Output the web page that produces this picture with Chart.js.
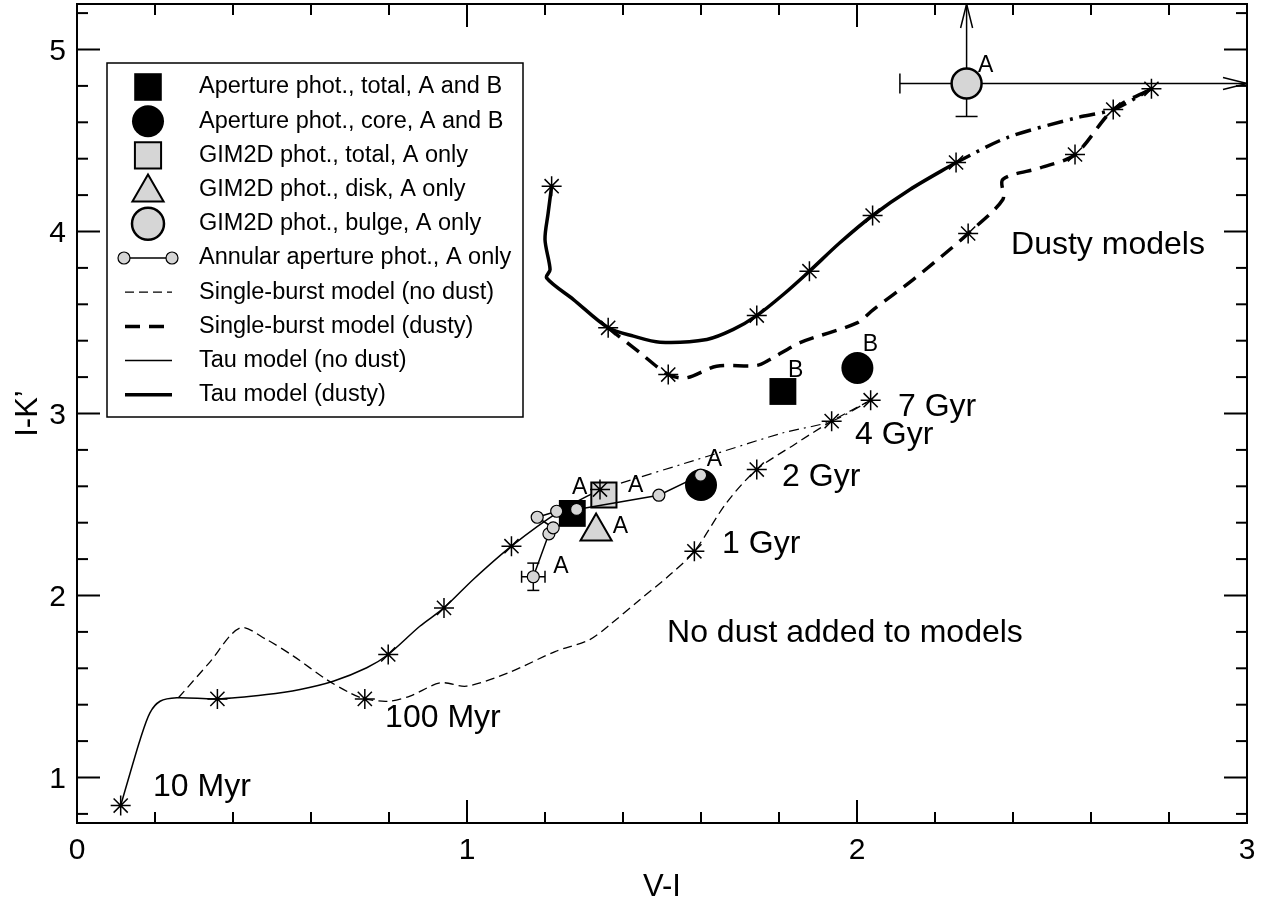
<!DOCTYPE html>
<html><head><meta charset="utf-8">
<script src="https://cdn.jsdelivr.net/npm/chart.js@4/dist/chart.umd.min.js"></script>
<style>html,body{margin:0;padding:0;background:#fff}canvas{display:block}</style>
</head><body>
<canvas id="c" width="1270" height="901"></canvas>
<script>
// ---------- data ----------
const xTickVals = [0, 1, 2, 3];
const yTickVals = [1, 2, 3, 4, 5];

// Tau model (no dust) - solid part
const tauNoDustX = [0.112, 0.137, 0.162, 0.187, 0.213, 0.256, 0.360, 0.486, 0.572, 0.657, 0.743, 0.798, 0.879, 0.941, 1.016, 1.114, 1.238, 1.341];
const tauNoDustY = [0.846, 1.030, 1.209, 1.355, 1.419, 1.438, 1.432, 1.456, 1.484, 1.529, 1.603, 1.676, 1.831, 1.932, 2.088, 2.271, 2.463, 2.582];
// Tau model (no dust) - dash-dot continuation
const tauNoDustLateX = [1.341, 1.632, 1.811, 1.935, 2.035];
const tauNoDustLateY = [2.582, 2.775, 2.894, 2.958, 3.073];
// Single-burst model (no dust)
const burstNoDustX = [0.260, 0.339, 0.418, 0.486, 0.555, 0.640, 0.700, 0.738, 0.798, 0.854, 0.931, 0.999, 1.106, 1.226, 1.315, 1.367, 1.444, 1.521, 1.583, 1.666, 1.743, 1.840, 1.935, 2.035];
const burstNoDustY = [1.438, 1.630, 1.822, 1.758, 1.667, 1.538, 1.465, 1.432, 1.419, 1.447, 1.520, 1.502, 1.575, 1.692, 1.758, 1.841, 1.978, 2.115, 2.243, 2.511, 2.692, 2.830, 2.958, 3.073];
// Tau model (dusty) - solid part
const tauDustyX = [1.217, 1.208, 1.200, 1.213, 1.204, 1.273, 1.362, 1.427, 1.495, 1.615, 1.683, 1.743, 1.811, 1.878, 1.956, 2.040, 2.136, 2.254];
const tauDustyY = [4.249, 4.100, 3.956, 3.791, 3.745, 3.626, 3.471, 3.425, 3.392, 3.407, 3.462, 3.538, 3.654, 3.782, 3.938, 4.088, 4.231, 4.379];
// Tau model (dusty) - dash-dot continuation
const tauDustyLateX = [2.254, 2.384, 2.563, 2.657, 2.755];
const tauDustyLateY = [4.379, 4.515, 4.625, 4.670, 4.784];
// Single-burst model (dusty)
const burstDustyX = [1.362, 1.444, 1.516, 1.563, 1.640, 1.743, 1.777, 1.854, 2.000, 2.042, 2.144, 2.238, 2.285, 2.374, 2.374, 2.470, 2.559, 2.657, 2.755];
const burstDustyY = [3.471, 3.333, 3.214, 3.196, 3.260, 3.264, 3.297, 3.389, 3.498, 3.571, 3.736, 3.901, 3.989, 4.176, 4.286, 4.350, 4.423, 4.670, 4.784];
// Age markers (stars)
const starNoDustX = [0.112, 0.360, 0.738, 0.798, 0.941, 1.114, 1.341, 1.583, 1.743, 1.935, 2.035];
const starNoDustY = [0.846, 1.432, 1.432, 1.676, 1.932, 2.271, 2.582, 2.243, 2.692, 2.958, 3.073];
const starDustyX = [1.217, 1.362, 1.516, 1.743, 1.878, 2.040, 2.254, 2.285, 2.559, 2.657, 2.755];
const starDustyY = [4.249, 3.471, 3.214, 3.538, 3.782, 4.088, 4.379, 3.989, 4.423, 4.670, 4.784];
// Observations
const apTotalX = [1.270, 1.810];
const apTotalY = [2.451, 3.121];
const apCoreX = [1.600, 2.001];
const apCoreY = [2.607, 3.250];
const gimTotalX = [1.351];
const gimTotalY = [2.552];
const gimDiskX = [1.331];
const gimDiskY = [2.352];
const gimBulgeX = [2.281];
const gimBulgeY = [4.813];
const annularX = [1.170, 1.210, 1.221, 1.180, 1.230, 1.281, 1.492, 1.599];
const annularY = [2.103, 2.339, 2.372, 2.430, 2.463, 2.473, 2.551, 2.661];
// Error bars
const annularErrX = [0.03];
const annularErrY = [0.075];
const bulgeXLow = [2.11];
const bulgeYLow = [4.632];
// Annotations
const ageLabels = ['10 Myr', '100 Myr', '1 Gyr', '2 Gyr', '4 Gyr', '7 Gyr', 'No dust added to models', 'Dusty models'];
const ageLabelX = [0.195, 0.790, 1.654, 1.808, 1.995, 2.105, 1.513, 2.395];
const ageLabelY = [0.896, 1.280, 2.236, 2.604, 2.830, 2.984, 1.742, 3.874];
const tagLabels = ['B', 'B', 'A', 'A', 'A', 'A', 'A', 'A'];
const tagX = [1.823, 2.015, 1.615, 1.413, 1.269, 1.374, 1.221, 2.310];
const tagY = [3.203, 3.341, 2.709, 2.571, 2.555, 2.346, 2.126, 4.879];
const legendLabels = ['Aperture phot., total, A and B', 'Aperture phot., core, A and B', 'GIM2D phot., total, A only', 'GIM2D phot., disk, A only', 'GIM2D phot., bulge, A only', 'Annular aperture phot., A only', 'Single-burst model (no dust)', 'Single-burst model (dusty)', 'Tau model (no dust)', 'Tau model (dusty)'];
const xTitle = 'V-I';
const yTitle = 'I-K\u2019';

// ---------- helpers ----------
const pts = (xs, ys) => xs.map((x, i) => ({x: x, y: ys[i]}));
const FONT = "'Liberation Sans', Arial, Helvetica, sans-serif";
const GREY = '#d6d6d6';

function lineDs(xs, ys, w, dash) {
  return {data: pts(xs, ys), showLine: true, borderColor: '#000', borderWidth: w, borderDash: dash || [],
    pointRadius: 0, pointHoverRadius: 0, tension: 0.3, fill: false};
}
function markDs(xs, ys, style, r, bg, bw) {
  return {data: pts(xs, ys), showLine: false, pointStyle: style, pointRadius: r, pointHoverRadius: r,
    backgroundColor: bg, borderColor: '#000', borderWidth: bw, pointBorderWidth: bw};
}

const datasets = [
  Object.assign(lineDs(annularX, annularY, 1.5), {pointRadius: 6, pointHoverRadius: 6, pointStyle: 'circle', pointBackgroundColor: GREY, pointBorderColor: '#000', pointBorderWidth: 1.2, tension: 0}),
  markDs(starNoDustX, starNoDustY, 'star', 10, '#000', 1.5),
  markDs(starDustyX, starDustyY, 'star', 10, '#000', 1.5),
  markDs(apTotalX, apTotalY, 'rect', 19, '#000', 0),
  markDs(apCoreX, apCoreY, 'circle', 16, '#000', 0),
  markDs(gimTotalX, gimTotalY, 'rect', 17.8, GREY, 2),
  markDs(gimDiskX, gimDiskY, 'triangle', 18, GREY, 2),
  markDs(gimBulgeX, gimBulgeY, 'circle', 15, GREY, 2.5),
  lineDs(tauNoDustX, tauNoDustY, 1.5),
  lineDs(tauNoDustLateX, tauNoDustLateY, 1.2, [10, 5, 2, 5]),
  lineDs(burstNoDustX, burstNoDustY, 1.3, [9, 5]),
  lineDs(tauDustyX, tauDustyY, 3.5),
  lineDs(tauDustyLateX, tauDustyLateY, 3.5, [16, 7, 3, 7]),
  lineDs(burstDustyX, burstDustyY, 3.5, [15, 9])
];

// ---------- drawing helpers ----------
function drawSym(ctx, style, x, y, r, fill, lw) {
  ctx.save();
  ctx.fillStyle = fill; ctx.strokeStyle = '#000'; ctx.lineWidth = lw;
  ctx.beginPath();
  if (style === 'rect') {
    const s = Math.SQRT1_2 * r; ctx.rect(x - s, y - s, 2 * s, 2 * s);
  } else if (style === 'circle') {
    ctx.arc(x, y, r, 0, Math.PI * 2);
  } else if (style === 'triangle') {
    let a = 0;
    ctx.moveTo(x + Math.sin(a) * r, y - Math.cos(a) * r);
    a += Math.PI * 2 / 3; ctx.lineTo(x + Math.sin(a) * r, y - Math.cos(a) * r);
    a += Math.PI * 2 / 3; ctx.lineTo(x + Math.sin(a) * r, y - Math.cos(a) * r);
    ctx.closePath();
  }
  ctx.fill();
  if (lw > 0) ctx.stroke();
  ctx.restore();
}
function seg(ctx, x1, y1, x2, y2) { ctx.beginPath(); ctx.moveTo(x1, y1); ctx.lineTo(x2, y2); ctx.stroke(); }

const errorBarPlugin = {
  id: 'errbars',
  beforeDatasetsDraw(chart) {
    const ctx = chart.ctx, xs = chart.scales.x, ys = chart.scales.y;
    ctx.save(); ctx.strokeStyle = '#000'; ctx.lineWidth = 1.5;
    const ax = xs.getPixelForValue(annularX[0]), ay = ys.getPixelForValue(annularY[0]);
    const axl = xs.getPixelForValue(annularX[0] - annularErrX[0]), axh = xs.getPixelForValue(annularX[0] + annularErrX[0]);
    const ayl = ys.getPixelForValue(annularY[0] - annularErrY[0]), ayh = ys.getPixelForValue(annularY[0] + annularErrY[0]);
    seg(ctx, axl, ay, axh, ay); seg(ctx, axl, ay - 6, axl, ay + 6); seg(ctx, axh, ay - 6, axh, ay + 6);
    seg(ctx, ax, ayl, ax, ayh); seg(ctx, ax - 6, ayl, ax + 6, ayl); seg(ctx, ax - 6, ayh, ax + 6, ayh);
    const bx = xs.getPixelForValue(gimBulgeX[0]), by = ys.getPixelForValue(gimBulgeY[0]);
    const bxl = xs.getPixelForValue(bulgeXLow[0]), byl = ys.getPixelForValue(bulgeYLow[0]);
    const right = chart.chartArea.right, top = chart.chartArea.top;
    seg(ctx, bxl, by, right, by); seg(ctx, bxl, by - 10, bxl, by + 10);
    seg(ctx, right - 24, by - 6, right, by); seg(ctx, right - 24, by + 6, right, by);
    seg(ctx, bx, byl, bx, top); seg(ctx, bx - 11, byl, bx + 11, byl);
    seg(ctx, bx - 6, top + 24, bx, top); seg(ctx, bx + 6, top + 24, bx, top);
    ctx.restore();
  }
};

const framePlugin = {
  id: 'frame',
  afterDatasetsDraw(chart) {
    const ctx = chart.ctx, a = chart.chartArea, xs = chart.scales.x, ys = chart.scales.y;
    ctx.save();
    ctx.strokeStyle = '#000'; ctx.lineWidth = 2;
    ctx.strokeRect(a.left, a.top, a.right - a.left, a.bottom - a.top);
    for (let i = 0; i <= 15; i++) {
      const v = i * 0.2, px = xs.getPixelForValue(v);
      const L = (i % 5 === 0) ? 23 : 11;
      seg(ctx, px, a.bottom, px, a.bottom - L); seg(ctx, px, a.top, px, a.top + L);
    }
    for (let i = 4; i <= 26; i++) {
      const v = i * 0.2, py = ys.getPixelForValue(v);
      const L = (i % 5 === 0) ? 23 : 11;
      seg(ctx, a.left, py, a.left + L, py); seg(ctx, a.right, py, a.right - L, py);
    }
    ctx.fillStyle = '#000';
    ctx.font = '30px ' + FONT; ctx.textBaseline = 'alphabetic';
    ctx.textAlign = 'center';
    xTickVals.forEach(v => ctx.fillText(String(v), xs.getPixelForValue(v), a.bottom + 36));
    ctx.textAlign = 'right';
    yTickVals.forEach(v => ctx.fillText(String(v), a.left - 11, ys.getPixelForValue(v) + 10.7));
    ctx.font = '31px ' + FONT; ctx.textAlign = 'center';
    ctx.fillText(xTitle, (a.left + a.right) / 2, 896);
    ctx.save();
    ctx.translate(37, (a.top + a.bottom) / 2); ctx.rotate(-Math.PI / 2);
    ctx.fillText(yTitle, 0, 0);
    ctx.restore();
    ctx.textAlign = 'left'; ctx.textBaseline = 'alphabetic';
    ctx.font = '32px ' + FONT;
    ageLabels.forEach((t, i) => ctx.fillText(t, xs.getPixelForValue(ageLabelX[i]), ys.getPixelForValue(ageLabelY[i])));
    ctx.font = '23px ' + FONT;
    tagLabels.forEach((t, i) => ctx.fillText(t, xs.getPixelForValue(tagX[i]), ys.getPixelForValue(tagY[i])));
    const lx = 107, ly = 63, lw = 416, lh = 354, row = 34.2;
    ctx.fillStyle = '#fff'; ctx.fillRect(lx, ly, lw, lh);
    ctx.lineWidth = 1.5; ctx.strokeRect(lx, ly, lw, lh);
    const sx = 148, tx = 199;
    ctx.font = '23.5px ' + FONT; ctx.textBaseline = 'middle';
    legendLabels.forEach((t, i) => {
      const y = ly + 24 + i * row;
      ctx.fillStyle = '#000';
      ctx.fillText(t, tx, y);
      ctx.strokeStyle = '#000'; ctx.setLineDash([]);
      if (i === 0) drawSym(ctx, 'rect', sx, y, 19.5, '#000', 0);
      else if (i === 1) drawSym(ctx, 'circle', sx, y, 16, '#000', 0);
      else if (i === 2) drawSym(ctx, 'rect', sx, y, 18.5, GREY, 2);
      else if (i === 3) drawSym(ctx, 'triangle', sx, y + 3, 18, GREY, 2);
      else if (i === 4) drawSym(ctx, 'circle', sx, y, 16, GREY, 2.5);
      else if (i === 5) {
        ctx.lineWidth = 1.5; seg(ctx, 124, y, 172, y);
        drawSym(ctx, 'circle', 124, y, 6, GREY, 1.2); drawSym(ctx, 'circle', 172, y, 6, GREY, 1.2);
      } else {
        const dashes = {6: [9, 5], 7: [15, 9], 8: [], 9: []};
        const widths = {6: 1.3, 7: 3.5, 8: 1.5, 9: 3.5};
        ctx.lineWidth = widths[i]; ctx.setLineDash(dashes[i]);
        seg(ctx, 125, y, 172, y); ctx.setLineDash([]);
      }
    });
    ctx.restore();
  }
};

Chart.defaults.font.family = FONT;
Chart.defaults.color = '#000';

new Chart(document.getElementById('c'), {
  type: 'scatter',
  data: {datasets: datasets},
  options: {
    responsive: false, animation: false, events: [], devicePixelRatio: 1,
    layout: {autoPadding: false, padding: {top: 4, right: 23, left: 0, bottom: 0}},
    plugins: {legend: {display: false}, tooltip: {enabled: false}},
    scales: {
      x: {type: 'linear', min: 0, max: 3,
        grid: {display: false, drawTicks: false}, border: {display: false},
        ticks: {display: false},
        afterBuildTicks: s => { s.ticks = xTickVals.map(v => ({value: v})); },
        afterFit: s => { s.height = 78; s.paddingLeft = 0; s.paddingRight = 0; }
      },
      y: {type: 'linear', min: 0.75, max: 5.25,
        grid: {display: false, drawTicks: false}, border: {display: false},
        ticks: {display: false},
        afterBuildTicks: s => { s.ticks = yTickVals.map(v => ({value: v})); },
        afterFit: s => { s.width = 77; s.paddingTop = 0; s.paddingBottom = 0; }
      }
    }
  },
  plugins: [errorBarPlugin, framePlugin]
});
</script>
</body></html>
